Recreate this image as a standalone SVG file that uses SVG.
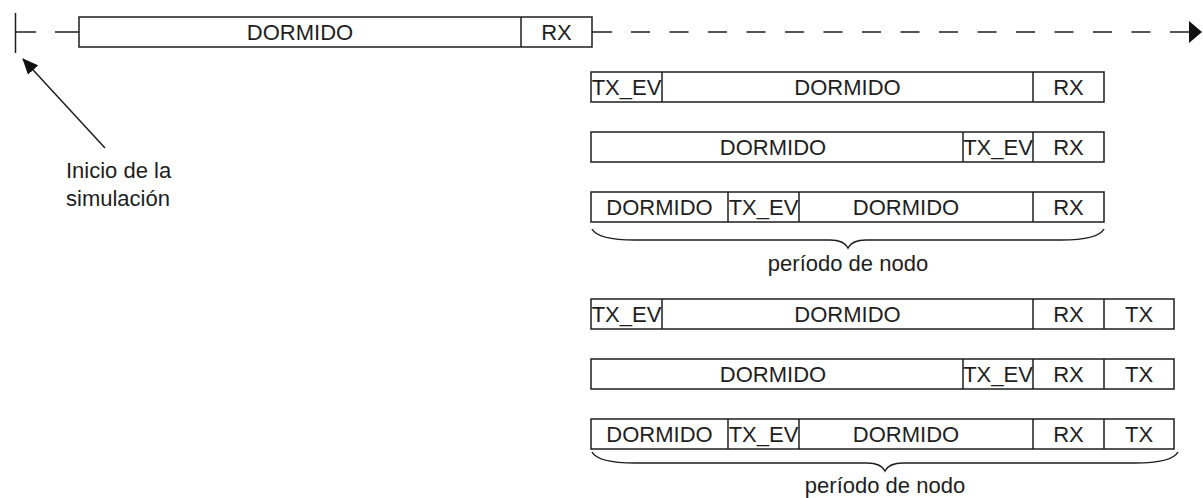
<svg xmlns="http://www.w3.org/2000/svg" width="1203" height="498" viewBox="0 0 1203 498">
<style>
.box{fill:#fff;stroke:#1e1e1e;stroke-width:1.5}
.div{stroke:#1e1e1e;stroke-width:1.5}
.ln{stroke:#1e1e1e;stroke-width:1.5;fill:none}
.t{font-family:"Liberation Sans",Arial,sans-serif;font-size:22px;fill:#1e1e1e;text-anchor:middle}
.l{font-family:"Liberation Sans",Arial,sans-serif;font-size:22px;fill:#1e1e1e}
</style>
<defs>
<marker id="ah" viewBox="0 0 16 14" refX="15" refY="7" markerWidth="16" markerHeight="14" markerUnits="userSpaceOnUse" orient="auto">
<path d="M0,0 L16,7 L0,14 z" fill="#111"/>
</marker>
</defs>
<rect width="1203" height="498" fill="#fff"/>

<g id="connectors">
<line class="ln" x1="15.5" y1="13" x2="15.5" y2="53"/>
<line class="ln" x1="16" y1="32" x2="36" y2="32"/>
<line class="ln" x1="55" y1="32" x2="79" y2="32"/>
<line class="ln" x1="592" y1="32" x2="612" y2="32"/>
<line class="ln" x1="631" y1="32" x2="1189" y2="32" stroke-dasharray="19 19.5"/>
<path d="M1189,21 L1202,32 L1189,43 z" fill="#111"/>
<line class="ln" x1="105" y1="148" x2="23" y2="59" marker-end="url(#ah)"/>
</g>

<g id="label-inicio">
<text class="l" x="66" y="178">Inicio de la</text>
<text class="l" x="66" y="206">simulación</text>
</g>

<g id="timeline">
<rect class="box" x="79" y="17" width="513" height="30"/>
<line class="div" x1="521" y1="17" x2="521" y2="47"/>
<text class="t" x="300" y="40">DORMIDO</text>
<text class="t" x="556.5" y="40">RX</text>
</g>

<g id="row1">
<rect class="box" x="591" y="72" width="513" height="30"/>
<line class="div" x1="662" y1="72" x2="662" y2="102"/>
<line class="div" x1="1033" y1="72" x2="1033" y2="102"/>
<text class="t" x="626.5" y="95">TX_EV</text>
<text class="t" x="847.5" y="95">DORMIDO</text>
<text class="t" x="1068.5" y="95">RX</text>
</g>

<g id="row2">
<rect class="box" x="591" y="132" width="513" height="30"/>
<line class="div" x1="963" y1="132" x2="963" y2="162"/>
<line class="div" x1="1033" y1="132" x2="1033" y2="162"/>
<text class="t" x="773" y="155">DORMIDO</text>
<text class="t" x="998" y="155">TX_EV</text>
<text class="t" x="1068.5" y="155">RX</text>
</g>

<g id="row3">
<rect class="box" x="591" y="192" width="513" height="30"/>
<line class="div" x1="728" y1="192" x2="728" y2="222"/>
<line class="div" x1="799" y1="192" x2="799" y2="222"/>
<line class="div" x1="1033" y1="192" x2="1033" y2="222"/>
<text class="t" x="659.5" y="215">DORMIDO</text>
<text class="t" x="763.5" y="215">TX_EV</text>
<text class="t" x="906" y="215">DORMIDO</text>
<text class="t" x="1068.5" y="215">RX</text>
</g>

<g id="brace1">
<path class="ln" d="M592,229 Q598,240 635,240 L830,240 Q844,240 848,248 Q852,240 866,240 L1061,240 Q1098,240 1104,229"/>
<text class="t" x="848" y="271">período de nodo</text>
</g>

<g id="row4">
<rect class="box" x="591" y="299" width="583" height="30"/>
<line class="div" x1="662" y1="299" x2="662" y2="329"/>
<line class="div" x1="1033" y1="299" x2="1033" y2="329"/>
<line class="div" x1="1104" y1="299" x2="1104" y2="329"/>
<text class="t" x="626.5" y="322">TX_EV</text>
<text class="t" x="847.5" y="322">DORMIDO</text>
<text class="t" x="1068.5" y="322">RX</text>
<text class="t" x="1139" y="322">TX</text>
</g>

<g id="row5">
<rect class="box" x="591" y="359" width="583" height="30"/>
<line class="div" x1="963" y1="359" x2="963" y2="389"/>
<line class="div" x1="1033" y1="359" x2="1033" y2="389"/>
<line class="div" x1="1104" y1="359" x2="1104" y2="389"/>
<text class="t" x="773" y="382">DORMIDO</text>
<text class="t" x="998" y="382">TX_EV</text>
<text class="t" x="1068.5" y="382">RX</text>
<text class="t" x="1139" y="382">TX</text>
</g>

<g id="row6">
<rect class="box" x="591" y="419" width="583" height="30"/>
<line class="div" x1="728" y1="419" x2="728" y2="449"/>
<line class="div" x1="799" y1="419" x2="799" y2="449"/>
<line class="div" x1="1033" y1="419" x2="1033" y2="449"/>
<line class="div" x1="1104" y1="419" x2="1104" y2="449"/>
<text class="t" x="659.5" y="442">DORMIDO</text>
<text class="t" x="763.5" y="442">TX_EV</text>
<text class="t" x="906" y="442">DORMIDO</text>
<text class="t" x="1068.5" y="442">RX</text>
<text class="t" x="1139" y="442">TX</text>
</g>

<g id="brace2">
<path class="ln" d="M592,452 Q598,463 635,463 L867,463 Q881,463 885,471 Q889,463 903,463 L1135,463 Q1172,463 1178,452"/>
<text class="t" x="885" y="493">período de nodo</text>
</g>
</svg>
